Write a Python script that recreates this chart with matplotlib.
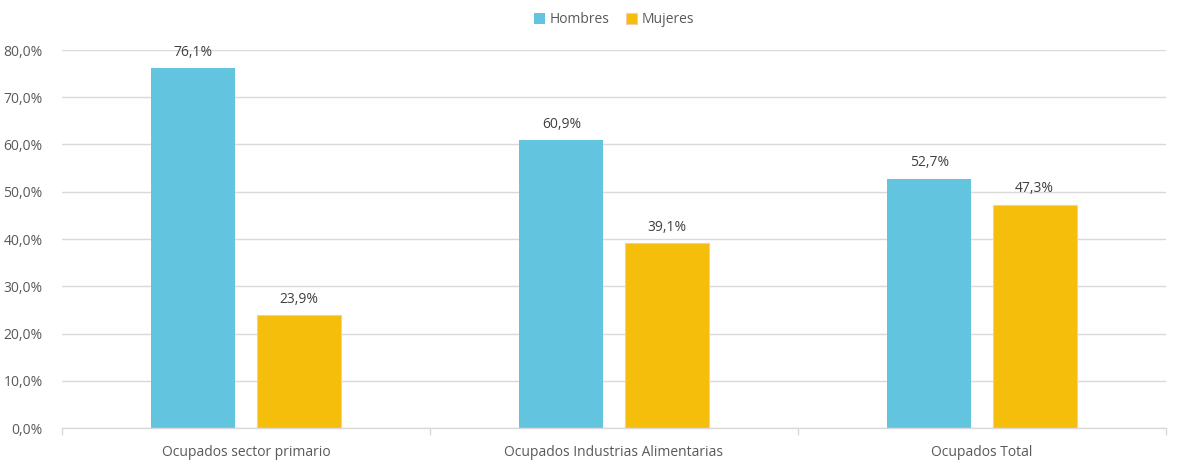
import matplotlib.pyplot as plt
import numpy as np
from matplotlib.ticker import FuncFormatter, FixedLocator

plt.rcParams['font.family'] = ['Open Sans', 'DejaVu Sans']

# Data
categories = ['Ocupados sector primario', 'Ocupados Industrias Alimentarias', 'Ocupados Total']
hombres = [76.1, 60.9, 52.7]
mujeres = [23.9, 39.1, 47.3]

c_hombres = '#62C4DE'
c_mujeres = '#F5BE0A'
text_col = '#595959'
grid_col = '#D9D9D9'

fig = plt.figure(figsize=(11.94, 4.73), dpi=100)
ax = fig.add_axes([62 / 1194, 45 / 473, 1104 / 1194, 378 / 473])

x = np.arange(len(categories))
w = 0.228
off = 0.143

b1 = ax.bar(x - off, hombres, w, color=c_hombres, label='Hombres')
b2 = ax.bar(x + off, mujeres, w, color=c_mujeres, edgecolor='#F8CBA0',
            linewidth=0.8, label='Mujeres')

# Value labels
for bars, vals in ((b1, hombres), (b2, mujeres)):
    for bar, v in zip(bars, vals):
        ax.text(bar.get_x() + bar.get_width() / 2, v + 1.8,
                f'{v:.1f}%'.replace('.', ','), ha='center', va='bottom',
                fontsize=10, color='#404040')

ax.set_xlim(-0.5, 2.5)
ax.set_ylim(0, 80)
ax.set_yticks(np.arange(0, 81, 10))
ax.yaxis.set_major_formatter(FuncFormatter(lambda v, p: f'{v:.1f}%'.replace('.', ',')))
ax.yaxis.grid(True, color=grid_col, linewidth=1)
ax.set_axisbelow(True)

# Category labels centered, tick marks at boundaries
ax.set_xticks(x)
ax.set_xticklabels(categories)
ax.tick_params(axis='x', which='major', length=0, pad=12, labelsize=10, labelcolor=text_col)
ax.xaxis.set_minor_locator(FixedLocator([-0.5, 0.5, 1.5, 2.5]))
ax.tick_params(axis='x', which='minor', length=5, color=grid_col, width=1)
ax.tick_params(axis='y', length=0, pad=14, labelsize=10, labelcolor=text_col)

for s in ('top', 'right', 'left'):
    ax.spines[s].set_visible(False)
ax.spines['bottom'].set_color(grid_col)
ax.spines['bottom'].set_linewidth(1)

leg = ax.legend(loc='center', bbox_to_anchor=(0.5, 1.08), ncol=2, frameon=False,
                fontsize=10, handlelength=0.8, handleheight=0.8, handletextpad=0.3,
                columnspacing=1.2, borderaxespad=0)
for t in leg.get_texts():
    t.set_color(text_col)

fig.savefig('out.png', dpi=100)
